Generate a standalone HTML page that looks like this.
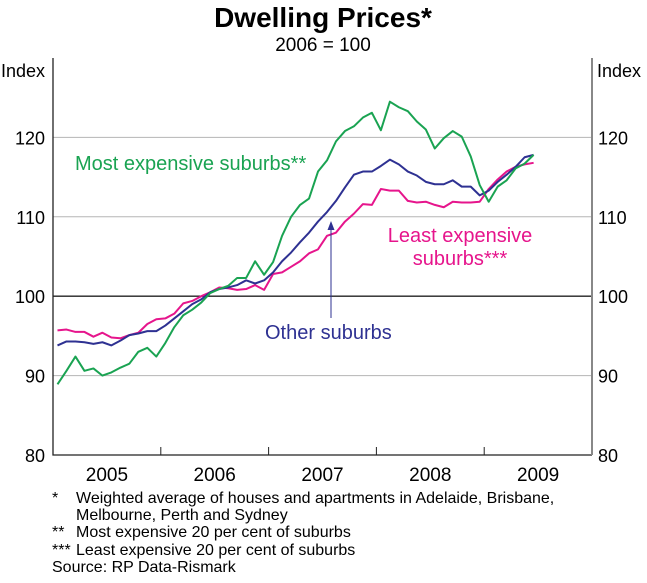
<!DOCTYPE html>
<html><head><meta charset="utf-8"><style>
body{margin:0;background:#fff;font-family:"Liberation Sans",Arial,sans-serif}
svg text{font-family:"Liberation Sans",Arial,sans-serif}
</style></head><body>
<svg id="c" width="647" height="578" xmlns="http://www.w3.org/2000/svg">
<text x="323" y="27" text-anchor="middle" font-size="28" font-weight="bold">Dwelling Prices*</text>
<text x="323" y="51" text-anchor="middle" font-size="19">2006 = 100</text>
<text x="1" y="77" font-size="18">Index</text>
<text x="597" y="77" font-size="18">Index</text>
<g id="grid"></g>
<g id="lines"></g>
<text x="75" y="170" font-size="20" fill="#1aa352">Most expensive suburbs**</text>
<text x="460" y="242" font-size="20" fill="#e6158c" text-anchor="middle"><tspan x="460">Least expensive</tspan><tspan x="460" dy="23">suburbs***</tspan></text>
<text x="265" y="339" font-size="20" fill="#2e3192">Other suburbs</text>
<line x1="331" y1="318" x2="331" y2="228" stroke="#2e3192" stroke-width="1"/>
<polygon points="331,221 327.5,230 334.5,230" fill="#2e3192"/>
<g font-size="16">
<text x="52" y="503">*</text><text x="76" y="503">Weighted average of houses and apartments in Adelaide, Brisbane,</text>
<text x="76" y="520">Melbourne, Perth and Sydney</text>
<text x="52" y="537">**</text><text x="76" y="537">Most expensive 20 per cent of suburbs</text>
<text x="52" y="555">***</text><text x="76" y="555">Least expensive 20 per cent of suburbs</text>
<text x="52" y="572">Source: RP Data-Rismark</text>
</g>
</svg>
<script>
const yTicks=[80,90,100,110,120];
const years=["2005","2006","2007","2008","2009"];
const mostExpensive=[88.9,90.6,92.4,90.6,90.9,90.0,90.4,91.0,91.5,93.0,93.5,92.4,94.1,96.1,97.6,98.3,99.2,100.4,100.9,101.3,102.3,102.3,104.4,102.7,104.3,107.6,110.0,111.5,112.3,115.7,117.1,119.5,120.8,121.4,122.5,123.1,120.9,124.5,123.8,123.3,122.0,121.0,118.6,119.9,120.8,120.1,117.6,114.0,111.9,113.8,114.6,116.1,116.7,117.8];
const otherSuburbs=[93.8,94.3,94.3,94.2,94.0,94.2,93.8,94.4,95.1,95.3,95.6,95.6,96.3,97.2,98.1,99.0,99.6,100.5,100.9,101.1,101.4,102.0,101.6,102.0,103.0,104.4,105.5,106.8,108.0,109.4,110.6,112.0,113.7,115.3,115.7,115.7,116.4,117.2,116.6,115.7,115.2,114.4,114.1,114.1,114.6,113.8,113.8,112.7,113.3,114.4,115.3,116.3,117.5,117.8];
const leastExpensive=[95.7,95.8,95.5,95.5,94.9,95.4,94.8,94.7,95.1,95.4,96.5,97.1,97.2,97.8,99.1,99.4,100.0,100.5,101.1,101.0,100.8,100.9,101.4,100.8,102.8,103.0,103.7,104.4,105.4,105.9,107.6,108.0,109.4,110.4,111.6,111.5,113.5,113.3,113.3,112.0,111.8,111.9,111.5,111.2,111.9,111.8,111.8,111.9,113.5,114.7,115.7,116.3,116.6,116.8];
const NS="http://www.w3.org/2000/svg";
const L=53,R=592,T=58,B=455,yMin=80,yMax=130,monthW=(R-L)/60;
const X=i=>L+(i+0.5)*monthW;
const Y=v=>B-(v-yMin)/(yMax-yMin)*(B-T);
function mk(tag,attrs,parent){const e=document.createElementNS(NS,tag);for(const k in attrs)e.setAttribute(k,attrs[k]);parent.appendChild(e);return e;}
const g=document.getElementById('grid');
yTicks.forEach(v=>{
  if(v>yMin){
    const ln=mk('line',{x1:L,x2:R,y1:Y(v),y2:Y(v),stroke:v===100?'#222':'#b5b5b5','stroke-width':v===100?1.3:1},g);
    
    
  }
  const t1=mk('text',{x:45,y:Y(v)+7,'text-anchor':'end','font-size':18},g);t1.textContent=v;
  
  
  const t2=mk('text',{x:598,y:Y(v)+7,'font-size':18},g);t2.textContent=v;
  
  
});
years.forEach((yr,k)=>{
  const cx=L+(k+0.5)*12*monthW;
  const t=mk('text',{x:cx,y:481,'text-anchor':'middle','font-size':19},g);t.textContent=yr;
  
  
  if(k>0){const tk=mk('line',{x1:L+k*12*monthW,x2:L+k*12*monthW,y1:B,y2:B-8,stroke:'#222'},g);
  
  }
});
const fr=mk('path',{d:`M${L},${T} L${L},${B} L${R},${B}`,fill:'none',stroke:'#222','stroke-width':1.3},g);


const rf=mk('line',{x1:R,x2:R,y1:T,y2:B,stroke:'#888','stroke-width':2},g);


const lg=document.getElementById('lines');
[[leastExpensive,'#e6158c','least-expensive-line'],[otherSuburbs,'#2e3192','other-suburbs-line'],[mostExpensive,'#1aa352','most-expensive-line']].forEach(([d,c,n])=>{
  const p=mk('polyline',{points:d.map((v,i)=>X(i)+','+Y(v)).join(' '),fill:'none',stroke:c,'stroke-width':2,'stroke-linejoin':'round'},lg);
  
  
});
</script>
</body></html>
